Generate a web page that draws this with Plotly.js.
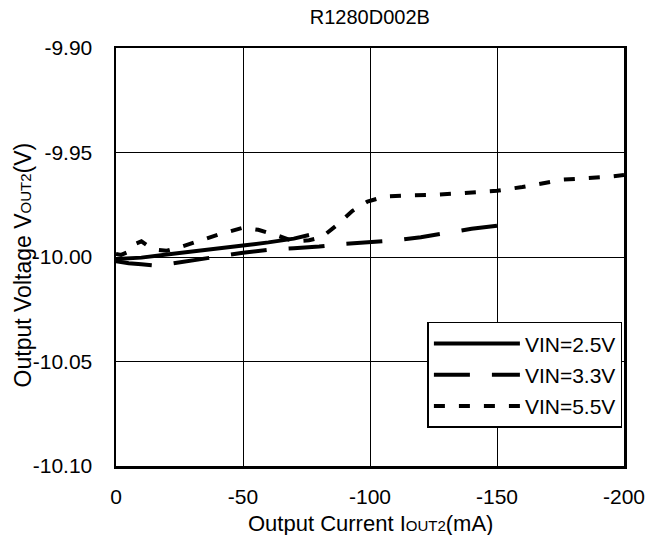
<!DOCTYPE html>
<html>
<head>
<meta charset="utf-8">
<script src="https://cdn.plot.ly/plotly-3.0.1.min.js"></script>
<style>html,body{margin:0;padding:0;background:#fff;}#chart{width:664px;height:535px;}</style>
</head>
<body>
<div id="chart"></div>
<script>
// Data
const v25_x = [0, -5, -10, -20, -30, -40, -50, -60, -70, -76];
const v25_y = [-10.001, -10.0008, -10.0003, -9.9988, -9.9975, -9.996, -9.9945, -9.993, -9.9912, -9.9895];

const v33_x = [0, -5, -10, -15, -20, -25, -30, -40, -50, -60, -70, -80, -90, -100, -110, -120, -130, -140, -150];
const v33_y = [-10.002, -10.003, -10.0035, -10.004, -10.0035, -10.0025, -10.0015, -9.9998, -9.998, -9.9965, -9.9958, -9.995, -9.9937, -9.9928, -9.992, -9.9905, -9.9885, -9.9865, -9.985];

const v55_x = [0, -2, -5, -8, -10, -13, -16, -20, -26, -33, -41, -50, -56, -63, -70, -76, -81, -87, -93, -99, -106, -115, -124, -137, -150, -160, -176, -193, -200];
const v55_y = [-9.9985, -9.999, -9.9975, -9.9935, -9.9925, -9.995, -9.9965, -9.997, -9.995, -9.992, -9.989, -9.986, -9.987, -9.9895, -9.9925, -9.992, -9.9905, -9.9847, -9.978, -9.9735, -9.971, -9.9705, -9.9703, -9.9694, -9.9683, -9.9665, -9.963, -9.9617, -9.9608];

const seriesNames = ["VIN=2.5V", "VIN=3.3V", "VIN=5.5V"];
const xTicks = [0, -50, -100, -150, -200];
const yTicks = [-9.90, -9.95, -10.00, -10.05, -10.10];

const FONT = "Liberation Sans, Arial, sans-serif";

const traces = [
  {x: v25_x, y: v25_y, name: seriesNames[0], legendgroup: "a", mode: "lines",
   line: {color: "#000", width: 4, dash: "solid"}},
  {x: v33_x, y: v33_y, name: seriesNames[1], legendgroup: "b", mode: "lines",
   line: {color: "#000", width: 4, dash: "36px,22px"}},
  {x: v55_x, y: v55_y, name: seriesNames[2], legendgroup: "c", mode: "lines",
   line: {color: "#000", width: 4, dash: "11px,14px"}}
];

const layout = {
  width: 664, height: 535,
  margin: {l: 116, r: 40, t: 48, b: 69},
  paper_bgcolor: "#fff", plot_bgcolor: "#fff",
  font: {family: FONT, size: 21, color: "#000"},
  showlegend: true,
  title: {text: "R1280D002B", x: 0.557, xanchor: "center", y: 0.968, yanchor: "middle",
          font: {family: FONT, size: 20, color: "#000"}},
  xaxis: {
    range: [0, -200], tickvals: xTicks, ticktext: xTicks.map(String),
    showgrid: true, gridcolor: "#000", gridwidth: 1,
    showline: true, linecolor: "#000", linewidth: 2.5, mirror: true,
    ticks: "", zeroline: false, ticklabelstandoff: 10,
    tickfont: {family: FONT, size: 21, color: "#000"}
  },
  yaxis: {
    range: [-10.10, -9.90], tickvals: yTicks, ticktext: yTicks.map(v => v.toFixed(2)),
    showgrid: true, gridcolor: "#000", gridwidth: 1,
    showline: true, linecolor: "#000", linewidth: 2.5, mirror: true,
    ticks: "", zeroline: false, ticklabelstandoff: 17,
    tickfont: {family: FONT, size: 21, color: "#000"}
  },
  legend: {
    x: 0.613, y: 0.345, xanchor: "left", yanchor: "top",
    bgcolor: "#fff", bordercolor: "#000", borderwidth: 1.5,
    font: {family: FONT, size: 21, color: "#000"},
    itemwidth: 86, tracegroupgap: 1
  },
  annotations: [
    {text: "Output Current I<span style=\"font-size:15px\">OUT2</span>(mA)",
     xref: "paper", yref: "paper", x: 0.5, y: -0.137, xanchor: "center", yanchor: "middle",
     showarrow: false, font: {family: FONT, size: 22, color: "#000"}},
    {text: "Output Voltage V<span style=\"font-size:15px\">OUT2</span>(V)",
     xref: "paper", yref: "paper", x: -0.183, y: 0.48, xanchor: "center", yanchor: "middle",
     textangle: -90, showarrow: false, font: {family: FONT, size: 23, color: "#000"}}
  ]
};

Plotly.newPlot("chart", traces, layout, {displayModeBar: false, staticPlot: true});
</script>
</body>
</html>
